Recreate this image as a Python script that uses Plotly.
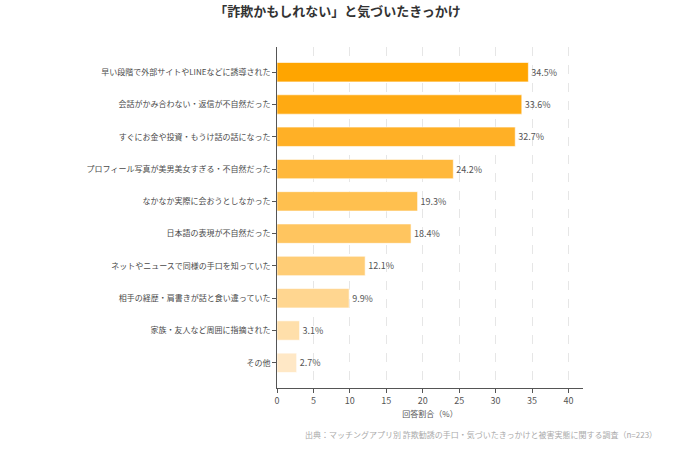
import plotly.graph_objects as go

categories = [
    "早い段階で外部サイトやLINEなどに誘導された",
    "会話がかみ合わない・返信が不自然だった",
    "すぐにお金や投資・もうけ話の話になった",
    "プロフィール写真が美男美女すぎる・不自然だった",
    "なかなか実際に会おうとしなかった",
    "日本語の表現が不自然だった",
    "ネットやニュースで同様の手口を知っていた",
    "相手の経歴・肩書きが話と食い違っていた",
    "家族・友人など周囲に指摘された",
    "その他",
]
values = [34.5, 33.6, 32.7, 24.2, 19.3, 18.4, 12.1, 9.9, 3.1, 2.7]
colors = ["#FFA500", "#FFAA12", "#FFB026", "#FFB83C", "#FFC04F", "#FFC55F",
          "#FFCD76", "#FFD690", "#FFDFAA", "#FFE8C6"]
xticks = [0, 5, 10, 15, 20, 25, 30, 35, 40]

FONT = "Noto Sans CJK JP"

fig = go.Figure(go.Bar(
    y=categories, x=values, orientation="h",
    marker=dict(color=colors, line=dict(color="rgba(255,255,255,0.6)", width=1)),
    width=0.6,
    text=[f"{v}%" for v in values], textposition="outside",
    textfont=dict(size=9, color="#555555", family=FONT),
    cliponaxis=False,
))

fig.update_layout(
    width=675, height=450,
    margin=dict(l=277, r=92, t=47, b=62),
    paper_bgcolor="white", plot_bgcolor="white",
    font=dict(family=FONT, color="#444444", size=8),
    showlegend=False,
    title=dict(text="「詐欺かもしれない」と気づいたきっかけ", x=0.5, xanchor="center",
               y=0.975, yanchor="middle",
               font=dict(size=13, color="#333333", family=FONT, weight="bold")),
    xaxis=dict(range=[0, 42], tickvals=xticks, showgrid=True,
               gridcolor="#e6e6e6", griddash="dash", gridwidth=1,
               showline=True, linecolor="#555555", linewidth=1,
               ticks="outside", ticklen=4, tickcolor="#555555",
               tickfont=dict(size=9, color="#555555"), zeroline=False,
               title=dict(text="回答割合（%）", font=dict(size=8, color="#555555"), standoff=5)),
    yaxis=dict(autorange=False, range=[9.78, -0.78], categoryorder="array",
               categoryarray=categories, showline=True, linecolor="#555555", linewidth=1,
               ticks="outside", ticklen=4, tickcolor="#555555",
               tickfont=dict(size=8, color="#4a4a4a"), showgrid=False),
)
fig.add_annotation(text="出典：マッチングアプリ別 詐欺勧誘の手口・気づいたきっかけと被害実態に関する調査（n=223）",
                   xref="paper", yref="paper",
                   x=(659 - 277) / (675 - 277 - 92), y=-(435 - 388) / (388 - 47),
                   xanchor="right", yanchor="middle", showarrow=False,
                   font=dict(size=8, color="#aaaaaa", family=FONT))

fig.write_html("out.html")
